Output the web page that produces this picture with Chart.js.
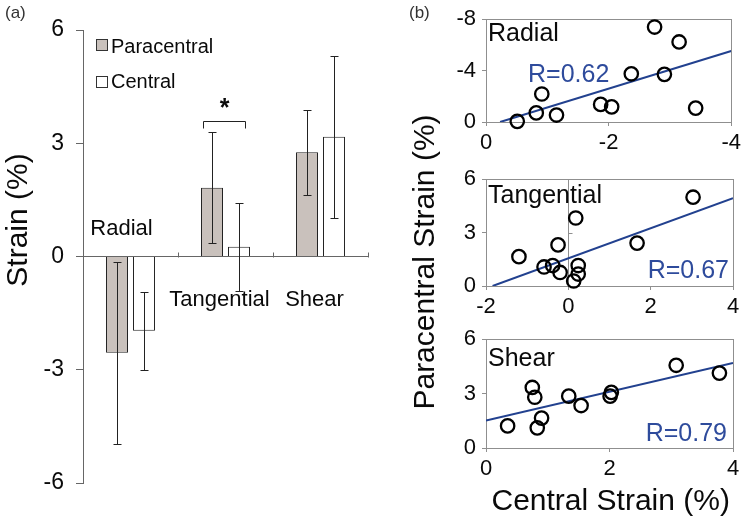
<!DOCTYPE html>
<html>
<head>
<meta charset="utf-8">
<title>Paracentral vs central strain</title>
<script src="https://cdn.jsdelivr.net/npm/chart.js@4.4.1/dist/chart.umd.min.js"></script>
<style>
  body { margin: 0; width: 745px; height: 523px; position: relative; overflow: hidden; background: #fff;
         font-family: "Liberation Sans", Arial, sans-serif; color: #0a0a0a; }
  canvas { position: absolute; }
  .lbl { position: absolute; white-space: nowrap; }
</style>
</head>
<body>
<canvas id="bars" width="400" height="523" style="left:0;top:0"></canvas>
<canvas id="radial" width="345" height="160" style="left:400px;top:0"></canvas>
<canvas id="tangential" width="345" height="160" style="left:400px;top:160px"></canvas>
<canvas id="shear" width="345" height="203" style="left:400px;top:320px"></canvas>
<div class="lbl" style="left:5px;top:3px;font-size:17px;line-height:20px;color:#333">(a)</div>
<div class="lbl" style="left:409px;top:3px;font-size:17px;line-height:20px;color:#333">(b)</div>
<div class="lbl" style="left:224px;top:247px;width:400px;height:30px;font-size:30px;line-height:30px;text-align:center;transform:rotate(-90deg)">Paracentral Strain (%)</div>

<script>
// panel (a): mean strain +/- SD
const categories = ['Radial', 'Tangential', 'Shear'];
const paracentralMean = [-2.55, 1.82, 2.76];
const paracentralSD = [2.41, 1.47, 1.12];
const centralMean = [-1.97, 0.26, 3.17];
const centralSD = [1.03, 1.17, 2.14];
const strainTicks = [-6, -3, 0, 3, 6];

// panel (b): central (x) vs paracentral (y) per subject
const radialCentral = [-0.51, -0.82, -0.91, -1.15, -1.87, -2.05, -2.37, -2.75, -2.91, -3.15, -3.42];
const radialPara = [-0.05, -0.71, -2.18, -0.54, -1.37, -1.18, -3.75, -7.39, -3.71, -6.23, -1.08];
const tangCentral = [-1.20, -0.59, -0.38, -0.25, -0.20, 0.13, 0.18, 0.24, 0.24, 1.67, 3.03];
const tangPara = [1.65, 1.07, 1.15, 2.31, 0.76, 0.28, 3.82, 1.15, 0.67, 2.41, 4.99];
const shearCentral = [0.35, 0.75, 0.79, 0.83, 0.90, 1.34, 1.54, 2.01, 2.03, 3.08, 3.78];
const shearPara = [1.22, 3.34, 2.80, 1.11, 1.65, 2.86, 2.34, 2.86, 3.07, 4.56, 4.13];

// regression lines, end points
const radialFitX = [-0.23, -4];
const radialFitY = [0, -5.53];
const tangFitX = [-1.84, 4];
const tangFitY = [0, 4.93];
const shearFitX = [0, 4];
const shearFitY = [1.51, 4.69];

const radialXTicks = [0, -2, -4];
const radialYTicks = [0, -4, -8];
const tangXTicks = [-2, 0, 2, 4];
const shearXTicks = [0, 2, 4];
const sixTicks = [0, 3, 6];

const FONT = '"Liberation Sans", Arial, sans-serif';
const TEXT = '#0a0a0a';
const AXIS_GREY = '#8f8f8f';
const FIT_BLUE = '#22418f';
Chart.defaults.font.family = FONT;
Chart.defaults.color = TEXT;

const useTicks = values => scale => { scale.ticks = values.map(v => ({ value: v })); };

const errorBars = {
  id: 'errorBars',
  afterDatasetsDraw(chart) {
    const { ctx, scales: { y } } = chart;
    ctx.save();
    ctx.strokeStyle = '#222';
    ctx.lineWidth = 1;
    chart.data.datasets.forEach((ds, i) => {
      chart.getDatasetMeta(i).data.forEach((bar, j) => {
        const top = Math.round(y.getPixelForValue(ds.data[j] + ds.sd[j])) + 0.5;
        const bot = Math.round(y.getPixelForValue(ds.data[j] - ds.sd[j])) + 0.5;
        const x = Math.round(bar.x) + 0.5;
        ctx.beginPath();
        ctx.moveTo(x, top); ctx.lineTo(x, bot);
        ctx.moveTo(x - 4, top); ctx.lineTo(x + 4, top);
        ctx.moveTo(x - 4, bot); ctx.lineTo(x + 4, bot);
        ctx.stroke();
      });
    });
    ctx.restore();
  }
};

const barDecor = {
  id: 'barDecor',
  afterDraw(chart) {
    const { ctx, scales: { x, y } } = chart;
    const y0 = Math.round(y.getPixelForValue(0)) + 0.5;
    const w = (x.right - x.left) / categories.length;
    ctx.save();

    // small marks between categories, pointing up
    ctx.strokeStyle = '#666';
    ctx.lineWidth = 1;
    ctx.beginPath();
    for (let k = 1; k <= categories.length; k++) {
      const px = Math.round(x.left + k * w) + 0.5;
      ctx.moveTo(px, y0);
      ctx.lineTo(px, y0 - 5);
    }
    ctx.stroke();

    // category names sit inside the plot
    ctx.fillStyle = TEXT;
    ctx.font = '22px ' + FONT;
    ctx.textAlign = 'center';
    ctx.textBaseline = 'alphabetic';
    const nameSpot = [[-9, 0.58], [-6, -1.3], [-6, -1.3]];
    categories.forEach((c, i) => {
      ctx.fillText(c, x.getPixelForValue(i) + nameSpot[i][0], y.getPixelForValue(nameSpot[i][1]));
    });

    // legend
    ctx.font = '20px ' + FONT;
    ctx.textAlign = 'left';
    ctx.strokeStyle = '#333';
    [['Paracentral', '#c9c1bc', 39.5, 52.5], ['Central', '#ffffff', 76.5, 88]].forEach(([t, c, sy, by]) => {
      ctx.fillStyle = c;
      ctx.fillRect(96.5, sy, 11, 11);
      ctx.strokeRect(96.5, sy, 11, 11);
      ctx.fillStyle = TEXT;
      ctx.fillText(t, 111, by);
    });

    // significance bracket over tangential pair
    const b0 = chart.getDatasetMeta(0).data[1];
    const b1 = chart.getDatasetMeta(1).data[1];
    const by = Math.round(y.getPixelForValue(3.6)) + 0.5;
    const bl = Math.round(b0.x - 9) + 0.5;
    const br = Math.round(b1.x + 6) + 0.5;
    ctx.strokeStyle = '#222';
    ctx.beginPath();
    ctx.moveTo(bl, by + 7); ctx.lineTo(bl, by); ctx.lineTo(br, by); ctx.lineTo(br, by + 7);
    ctx.stroke();
    ctx.font = 'bold 25px ' + FONT;
    ctx.textAlign = 'center';
    ctx.fillText('*', (bl + br) / 2, 116);

    // y title
    ctx.font = '30px ' + FONT;
    ctx.translate(27, 220);
    ctx.rotate(-Math.PI / 2);
    ctx.fillText('Strain (%)', 0, 0);
    ctx.restore();
  }
};

new Chart(document.getElementById('bars'), {
  type: 'bar',
  data: {
    labels: categories,
    datasets: [
      { label: 'Paracentral', data: paracentralMean, sd: paracentralSD,
        backgroundColor: '#c9c1bc', borderColor: '#222', borderWidth: 1 },
      { label: 'Central', data: centralMean, sd: centralSD,
        backgroundColor: '#ffffff', borderColor: '#222', borderWidth: 1 }
    ]
  },
  options: {
    responsive: false,
    animation: false,
    categoryPercentage: 0.568,
    barPercentage: 0.815,
    layout: { padding: { top: 30, bottom: 40, left: 0, right: 32 } },
    plugins: { legend: { display: false }, tooltip: { enabled: false } },
    scales: {
      x: {
        position: { y: 0 },
        ticks: { display: false },
        grid: { display: false },
        border: { color: '#666' }
      },
      y: {
        min: -6, max: 6,
        afterBuildTicks: useTicks(strainTicks),
        afterFit: s => { s.width = 83; },
        ticks: { font: { size: 23 }, color: TEXT, padding: 12 },
        grid: { drawOnChartArea: false, tickLength: 7, color: '#666' },
        border: { color: '#666' }
      }
    }
  },
  plugins: [errorBars, barDecor]
});

function scatterPanel(id, xs, ys, fitX, fitY, cfg) {
  const panelDecor = {
    id: 'panelDecor',
    beforeDatasetsDraw(chart) {
      const { ctx, chartArea: a, scales: { x, y } } = chart;
      ctx.save();
      ctx.strokeStyle = AXIS_GREY;
      ctx.lineWidth = 1;
      ctx.strokeRect(Math.round(a.left) + 0.5, Math.round(a.top) + 0.5,
                     Math.round(a.right - a.left), Math.round(a.bottom - a.top));
      if (cfg.zeroLine) {
        const zx = Math.round(x.getPixelForValue(0)) + 0.5;
        ctx.beginPath();
        ctx.moveTo(zx, a.top); ctx.lineTo(zx, a.bottom);
        const ty = Math.round(y.getPixelForValue(3)) + 0.5;
        ctx.moveTo(zx, ty); ctx.lineTo(zx + 4, ty);
        ctx.stroke();
      }
      ctx.fillStyle = TEXT;
      ctx.font = '25px ' + FONT;
      ctx.textAlign = 'left';
      ctx.fillText(cfg.title, a.left + 2, a.top + cfg.titleDy);
      ctx.restore();
    },
    afterDraw(chart) {
      const { ctx, chartArea: a } = chart;
      ctx.save();
      ctx.fillStyle = '#2e4b9c';
      ctx.font = '25px ' + FONT;
      if (cfg.rRight) {
        ctx.textAlign = 'right';
        ctx.fillText(cfg.r, a.right - cfg.rRight, a.bottom - cfg.rBottom);
      } else {
        ctx.textAlign = 'left';
        ctx.fillText(cfg.r, a.left + cfg.rLeft, a.top + cfg.rTop);
      }
      if (cfg.xTitle) {
        ctx.fillStyle = TEXT;
        ctx.font = '30px ' + FONT;
        ctx.textAlign = 'left';
        ctx.fillText(cfg.xTitle, 91.5, 190);
      }
      ctx.restore();
    }
  };

  return new Chart(document.getElementById(id), {
    type: 'scatter',
    data: {
      datasets: [
        { data: xs.map((x, i) => ({ x, y: ys[i] })), clip: false,
          pointRadius: 6.7, pointHoverRadius: 6.7, pointBorderWidth: 2.3,
          pointBorderColor: '#000', pointBackgroundColor: 'rgba(0,0,0,0)' },
        { type: 'line', data: fitX.map((x, i) => ({ x, y: fitY[i] })),
          borderColor: FIT_BLUE, borderWidth: 2, pointRadius: 0, fill: false }
      ]
    },
    options: {
      responsive: false,
      animation: false,
      layout: { padding: { top: 13, right: 12, left: 0, bottom: 0 } },
      plugins: { legend: { display: false }, tooltip: { enabled: false } },
      scales: {
        x: {
          type: 'linear', min: cfg.xMin, max: cfg.xMax, reverse: !!cfg.reverse,
          afterBuildTicks: useTicks(cfg.xTicks),
          afterFit: s => { s.height = cfg.xHeight; },
          ticks: { font: { size: 22 }, color: TEXT, padding: 4, maxRotation: 0, autoSkip: false },
          grid: { drawOnChartArea: false, tickLength: 4, color: AXIS_GREY },
          border: { color: AXIS_GREY }
        },
        y: {
          min: cfg.yMin, max: cfg.yMax, reverse: !!cfg.reverse,
          afterBuildTicks: useTicks(cfg.yTicks),
          afterFit: s => { s.width = 86; },
          ticks: { font: { size: 22 }, color: TEXT, padding: 6, autoSkip: false },
          grid: { drawOnChartArea: false, tickLength: 4, color: AXIS_GREY },
          border: { color: AXIS_GREY }
        }
      }
    },
    plugins: [panelDecor]
  });
}

scatterPanel('radial', radialCentral, radialPara, radialFitX, radialFitY, {
  xMin: -4, xMax: 0, yMin: -8, yMax: 0, reverse: true,
  xTicks: radialXTicks, yTicks: radialYTicks, xHeight: 38,
  title: 'Radial', titleDy: 22, r: 'R=0.62', rLeft: 42, rTop: 63
});

scatterPanel('tangential', tangCentral, tangPara, tangFitX, tangFitY, {
  xMin: -2, xMax: 4, yMin: 0, yMax: 6, zeroLine: true,
  xTicks: tangXTicks, yTicks: sixTicks, xHeight: 34,
  title: 'Tangential', titleDy: 24, r: 'R=0.67', rRight: 4, rBottom: 8
});

scatterPanel('shear', shearCentral, shearPara, shearFitX, shearFitY, {
  xMin: 0, xMax: 4, yMin: 0, yMax: 6,
  xTicks: shearXTicks, yTicks: sixTicks, xHeight: 75,
  title: 'Shear', titleDy: 27, r: 'R=0.79', rRight: 6, rBottom: 7,
  xTitle: 'Central Strain (%)'
});
</script>
</body>
</html>
